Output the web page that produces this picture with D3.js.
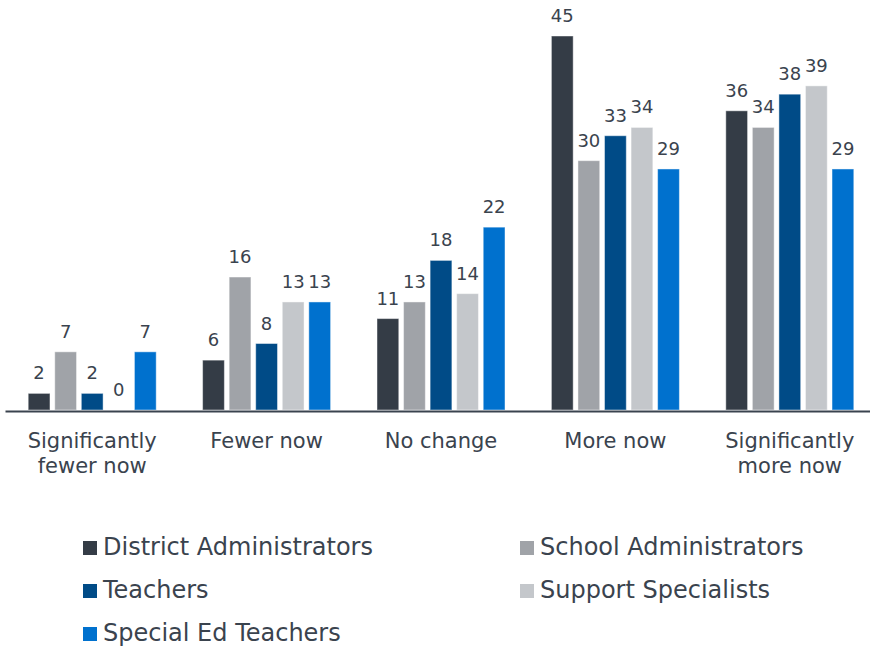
<!DOCTYPE html>
<html>
<head>
<meta charset="utf-8">
<script src="https://cdn.jsdelivr.net/npm/d3@7"></script>
<style>
  body { margin: 0; background: #fff; }
  svg text { font-family: "DejaVu Sans", Verdana, sans-serif; fill: #3a434e; }
</style>
</head>
<body>
<svg id="chart" width="870" height="647"></svg>
<script>
// categories on the x axis (each label split into lines)
var categories = ["Significantly fewer now", "Fewer now", "No change", "More now", "Significantly more now"];
var categoryLines = [["Significantly", "fewer now"], ["Fewer now"], ["No change"], ["More now"], ["Significantly", "more now"]];

// series names and colours
var seriesNames = ["District Administrators", "School Administrators", "Teachers", "Support Specialists", "Special Ed Teachers"];
var seriesColors = ["#343c46", "#a0a3a8", "#004b87", "#c4c7cb", "#0071ce"];

// values, one array per series
var districtAdmins = [2, 6, 11, 45, 36];
var schoolAdmins = [7, 16, 13, 30, 34];
var teachers = [2, 8, 18, 33, 38];
var supportSpecialists = [0, 13, 14, 34, 39];
var specialEdTeachers = [7, 13, 22, 29, 29];
var seriesValues = [districtAdmins, schoolAdmins, teachers, supportSpecialists, specialEdTeachers];

var svg = d3.select("#chart");
var baseline = 410;

// outer scale for the category groups
var x0 = d3.scaleBand().domain(categories).range([5, 877]).padding(0);
// inner scale for the bars inside one group
var x1 = d3.scaleBand().domain(seriesNames).range([-64, 64]).paddingInner(0.18).paddingOuter(0);
var y = d3.scaleLinear().domain([0, 45]).range([baseline, 36]);

// build the flat list of bars
var bars = [];
categories.forEach(function(c, ci) {
    seriesNames.forEach(function(s, si) {
        bars.push({cat: c, series: s, si: si, value: seriesValues[si][ci]});
    });
});

var g = svg.append("g");

g.selectAll(".bar")
    .data(bars)
    .enter().append("rect")
    .attr("class", "bar")
    .attr("x", d => x0(d.cat) + x0.bandwidth() / 2 + x1(d.series))
    .attr("y", d => y(d.value))
    .attr("width", x1.bandwidth())
    .attr("height", d => baseline - y(d.value))
    .attr("fill", d => seriesColors[d.si])
    .attr("stroke", "rgba(255,255,255,0.45)")
    .attr("stroke-width", 1);

// value labels above the bars
g.selectAll(".val")
    .data(bars)
    .enter().append("text")
    .attr("class", "val")
    .attr("x", d => x0(d.cat) + x0.bandwidth() / 2 + x1(d.series) + x1.bandwidth() / 2)
    .attr("y", d => y(d.value) - 14)
    .attr("text-anchor", "middle")
    .style("font-size", "18px")
    .text(d => d.value);

// x axis: just the base line, labels are drawn as wrapped text
var axis = svg.append("g")
    .attr("transform", "translate(0," + (baseline + 1) + ")")
    .call(d3.axisBottom(x0).tickSize(0).tickSizeOuter(0).tickFormat(""));
axis.select(".domain").attr("stroke", "#3a434e").attr("stroke-width", 2);

svg.selectAll(".catLabel")
    .data(categories)
    .enter().append("text")
    .attr("class", "catLabel")
    .attr("text-anchor", "middle")
    .style("font-size", "21px")
    .each(function(d, i) {
        var t = d3.select(this);
        categoryLines[i].forEach(function(line, li) {
            t.append("tspan")
                .attr("x", x0(d) + x0.bandwidth() / 2)
                .attr("y", 448 + li * 25)
                .text(line);
        });
    });

// legend, two columns
var legend = svg.append("g");
var item = legend.selectAll(".leg")
    .data(seriesNames)
    .enter().append("g")
    .attr("class", "leg")
    .attr("transform", (d, i) => "translate(" + (i % 2 === 0 ? 83 : 520) + "," + (541 + Math.floor(i / 2) * 43) + ")");

item.append("rect")
    .attr("width", 14)
    .attr("height", 14)
    .attr("fill", (d, i) => seriesColors[i]);

item.append("text")
    .attr("x", 20)
    .attr("y", 14)
    .style("font-size", "24px")
    .text(d => d);
</script>
</body>
</html>
